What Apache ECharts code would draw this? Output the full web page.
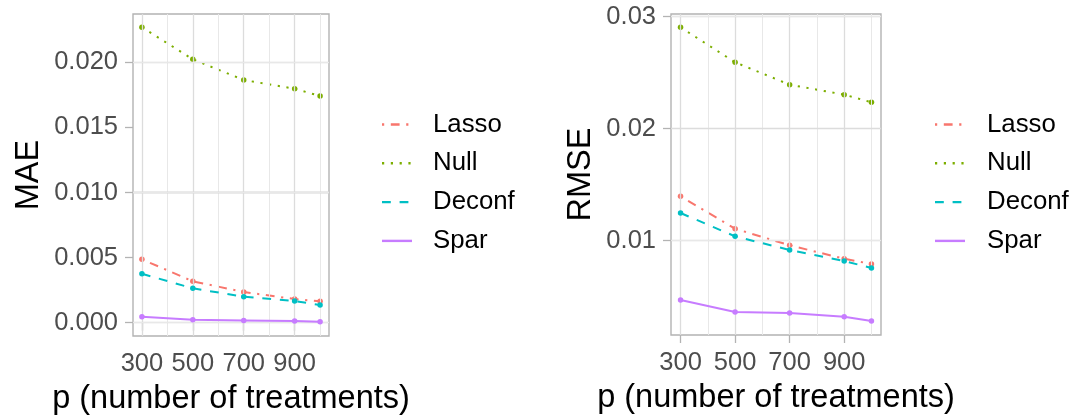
<!DOCTYPE html>
<html><head><meta charset="utf-8">
<script src="https://cdn.jsdelivr.net/npm/echarts@6/dist/echarts.min.js"></script>
<style>html,body{margin:0;padding:0;background:#fff}#c{width:1076px;height:417px}</style>
</head><body><div id="c"></div>
<script>
// ---- data ----
const pValues = [300, 500, 700, 900, 1000];
const seriesNames = ['Lasso', 'Null', 'Deconf', 'Spar'];
const maeLasso  = [0.00487, 0.00318, 0.00236, 0.00182, 0.00164];
const maeNull   = [0.02269, 0.02023, 0.01864, 0.01797, 0.01741];
const maeDeconf = [0.00376, 0.00264, 0.00200, 0.00167, 0.00136];
const maeSpar   = [0.00046, 0.00023, 0.00018, 0.00013, 0.00008];
const rmseLasso  = [0.01396, 0.01107, 0.00959, 0.00839, 0.00792];
const rmseNull   = [0.02905, 0.02593, 0.02393, 0.02304, 0.02236];
const rmseDeconf = [0.01247, 0.01039, 0.00917, 0.00819, 0.00756];
const rmseSpar   = [0.00470, 0.00363, 0.00354, 0.00321, 0.00283];
const xTicks = [300, 500, 700, 900];
const xMinorGrid = [400, 600, 800, 1000];
const maeTicks = [0, 0.005, 0.010, 0.015, 0.020];
const maeMinorGrid = [0.0025, 0.0075, 0.0125, 0.0175, 0.0225];
const rmseTicks = [0.01, 0.02, 0.03];
const rmseMinorGrid = [0.005, 0.015, 0.025];
const xTitle = 'p (number of treatments)';
const yTitles = ['MAE', 'RMSE'];

// ---- styles ----
const FONT = '"Liberation Sans", Arial, Helvetica, sans-serif';
const TICK_FS = 25.5, TITLE_FS = 32.5, LEGEND_FS = 25.8;
const colors = {Lasso: '#F8766D', Null: '#7CAE00', Deconf: '#00BFC4', Spar: '#C77CFF'};
const dashes = {Lasso: [2.2, 6.6, 8.8, 6.6], Null: [2.2, 6.6], Deconf: [8.8, 8.8], Spar: 'solid'};
const panelData = [
  {Lasso: maeLasso, Null: maeNull, Deconf: maeDeconf, Spar: maeSpar},
  {Lasso: rmseLasso, Null: rmseNull, Deconf: rmseDeconf, Spar: rmseSpar}
];
const yTickSets = [maeTicks, rmseTicks];
const yMinorSets = [maeMinorGrid, rmseMinorGrid];
const yRanges = [[-0.00102, 0.02371], [0.00158, 0.03024]];
const yNameGaps = [87, 73];
const legendPos = [{keyX: 382, textX: 433}, {keyX: 935, textX: 987}];
const legendY0 = 124.5, legendStep = 38.8;

const grids = [
  {left: 133, top: 14, width: 196, height: 322},
  {left: 671, top: 14, width: 210, height: 321}
].map(g => Object.assign(g, {show: true, borderColor: '#B3B3B3', borderWidth: 1.4, backgroundColor: '#fff',
  containLabel: false, outerBoundsMode: 'none'}));

const xAxes = [0, 1].map(i => ({
  type: 'value', gridIndex: i, min: 265, max: 1035,
  name: xTitle, nameLocation: 'middle', nameGap: 47,
  nameTextStyle: {fontFamily: FONT, fontSize: TITLE_FS, color: '#000'},
  axisLine: {show: false},
  axisTick: {show: true, customValues: xTicks, length: 8, lineStyle: {color: '#B3B3B3', width: 1.3}},
  axisLabel: {customValues: xTicks, fontFamily: FONT, fontSize: TICK_FS, color: '#4D4D4D', margin: 15},
  splitLine: {show: false}
}));
const yAxes = [0, 1].map(i => ({
  type: 'value', gridIndex: i, min: yRanges[i][0], max: yRanges[i][1],
  name: yTitles[i], nameLocation: 'middle', nameGap: yNameGaps[i], nameRotate: 90,
  nameTextStyle: {fontFamily: FONT, fontSize: TITLE_FS, color: '#000'},
  axisLine: {show: false},
  axisTick: {show: true, customValues: yTickSets[i], length: 8, lineStyle: {color: '#B3B3B3', width: 1.3}},
  axisLabel: {customValues: yTickSets[i], fontFamily: FONT, fontSize: TICK_FS, color: '#4D4D4D', margin: 15,
    formatter: v => i === 0 ? v.toFixed(3) : v.toFixed(2)},
  splitLine: {show: false}
}));

const series = [];
[0, 1].forEach(i => {
  const major = {color: '#DCDCDC', width: 1.3, type: 'solid'};
  const minor = {color: '#E8E8E8', width: 1.0, type: 'solid'};
  const ml = [];
  xTicks.forEach(v => ml.push({xAxis: v, lineStyle: major}));
  xMinorGrid.forEach(v => ml.push({xAxis: v, lineStyle: minor}));
  yTickSets[i].forEach(v => ml.push({yAxis: v, lineStyle: major}));
  yMinorSets[i].forEach(v => ml.push({yAxis: v, lineStyle: minor}));
  series.push({
    type: 'line', name: 'grid' + i, xAxisIndex: i, yAxisIndex: i, data: [], z: 1, silent: true,
    markLine: {silent: true, symbol: ['none', 'none'], label: {show: false}, animation: false,
      emphasis: {disabled: true}, data: ml}
  });
  seriesNames.forEach((name, k) => {
    series.push({
      type: 'line', name: name, xAxisIndex: i, yAxisIndex: i, z: 3 + k,
      data: pValues.map((p, j) => [p, panelData[i][name][j]]),
      symbol: 'circle', symbolSize: 5.5, showSymbol: true,
      itemStyle: {color: colors[name]},
      lineStyle: {color: colors[name], width: 2, type: dashes[name], cap: 'butt'},
      emphasis: {disabled: true}
    });
  });
});

const graphic = [];
legendPos.forEach(lp => {
  seriesNames.forEach((name, k) => {
    const y = legendY0 + k * legendStep;
    graphic.push({
      type: 'line', shape: {x1: lp.keyX, y1: y, x2: lp.keyX + 30, y2: y},
      style: {stroke: colors[name], lineWidth: 2.4, lineDash: dashes[name] === 'solid' ? null : dashes[name], lineCap: 'butt'}
    });
    graphic.push({
      type: 'text', x: lp.textX, y: y,
      style: {text: name, font: LEGEND_FS + 'px ' + FONT, fill: '#000', verticalAlign: 'middle', align: 'left'}
    });
  });
});

const chart = echarts.init(document.getElementById('c'), null, {renderer: 'canvas'});
chart.setOption({
  animation: false,
  backgroundColor: '#fff',
  grid: grids, xAxis: xAxes, yAxis: yAxes, series: series, graphic: graphic
});
</script></body></html>
